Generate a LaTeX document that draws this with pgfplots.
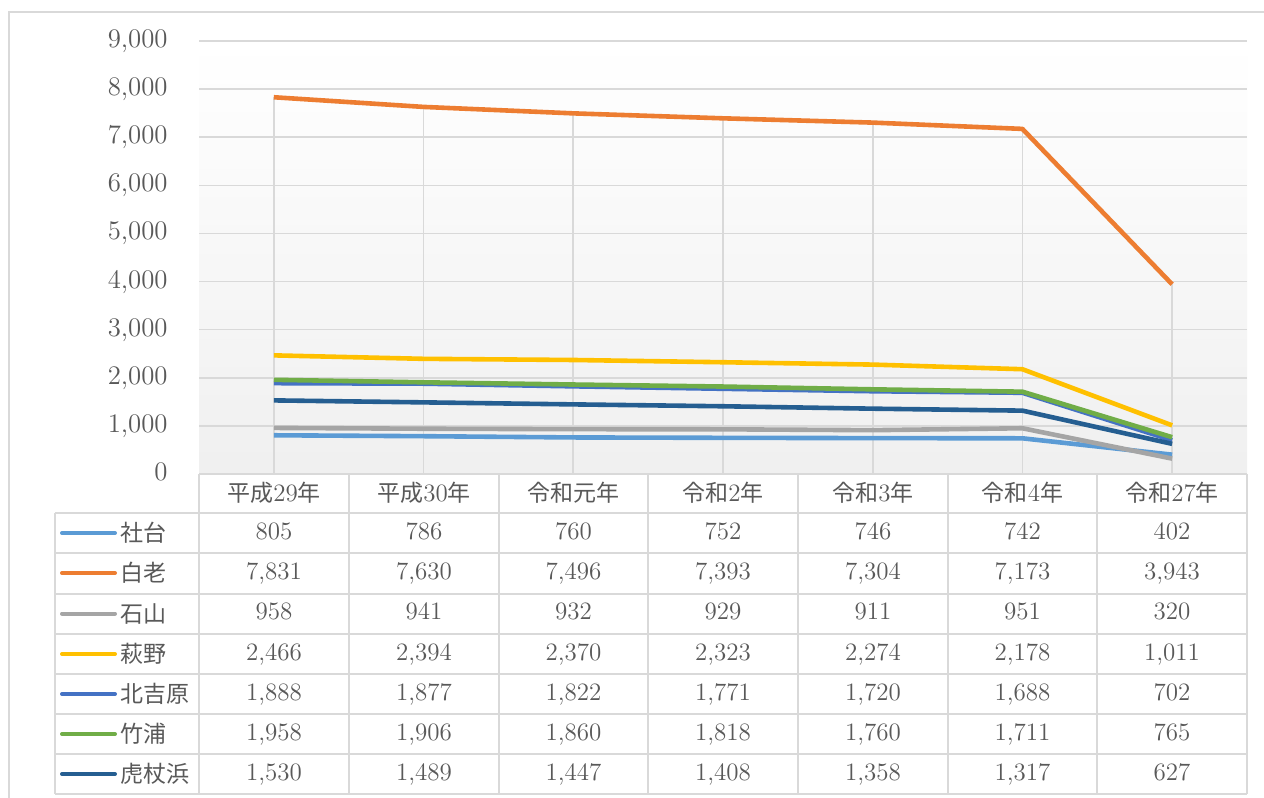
\documentclass[border=0pt]{standalone}
\usepackage{pgfplots}
\usepackage{pgfplotstable}
\pgfplotsset{compat=1.18}
\usepackage{fontspec}
\newfontfamily\cjk[Scale=0.92]{Noto Sans CJK JP}
\definecolor{c1}{HTML}{5B9BD5}
\definecolor{c2}{HTML}{ED7D31}
\definecolor{c3}{HTML}{A5A5A5}
\definecolor{c4}{HTML}{FFC000}
\definecolor{c5}{HTML}{4472C4}
\definecolor{c6}{HTML}{70AD47}
\definecolor{c7}{HTML}{255E91}
\definecolor{txt}{HTML}{595959}
\definecolor{gridc}{HTML}{D9D9D9}
\pgfplotstableread{
x s1 s2 s3 s4 s5 s6 s7
0 805 7831 958 2466 1888 1958 1530
1 786 7630 941 2394 1877 1906 1489
2 760 7496 932 2370 1822 1860 1447
3 752 7393 929 2323 1771 1818 1408
4 746 7304 911 2274 1720 1760 1358
5 742 7173 951 2178 1688 1711 1317
6 402 3943 320 1011 702 765 627
}\data
\begin{document}
\begin{tikzpicture}[x=0.5pt,y=0.5pt]
\clip (0,0) rectangle (1264,-798);
\fill[white] (0,0) rectangle (1264,-798);
\draw[gridc, line width=1pt] (9,-12) rectangle (1275,-810);
\begin{axis}[at={(99.5pt,-237pt)}, anchor=south west, scale only axis,
  width=524pt, height=216.5pt,
  xmin=-0.5, xmax=6.5, ymin=0, ymax=9000,
  ytick={0,1000,...,9000}, xtick=\empty,
  scaled y ticks=false,
  /pgf/number format/assume math mode=true,
  /pgf/number format/1000 sep={,},
  yticklabel style={txt, font=\fontsize{13.4}{15}\selectfont, inner sep=0pt, anchor=east, xshift=-15.5pt, text height=1.5ex, text depth=0pt},
  axis line style={draw=none},
  major tick length=0pt,
  ymajorgrids, grid style={gridc, line width=0.8pt},
  axis background/.style={top color=white, bottom color=black!6},
  clip=false]
\addplot[ycomb, gridc, line width=0.8pt, no marks] table[x=x,y=s2]{\data};
\addplot[c1, line width=2.3pt, no marks, line join=round] table[x=x,y=s1]{\data};
\addplot[c2, line width=2.3pt, no marks, line join=round] table[x=x,y=s2]{\data};
\addplot[c3, line width=2.3pt, no marks, line join=round] table[x=x,y=s3]{\data};
\addplot[c4, line width=2.3pt, no marks, line join=round] table[x=x,y=s4]{\data};
\addplot[c5, line width=2.3pt, no marks, line join=round] table[x=x,y=s5]{\data};
\addplot[c6, line width=2.3pt, no marks, line join=round] table[x=x,y=s6]{\data};
\addplot[c7, line width=2.3pt, no marks, line join=round] table[x=x,y=s7]{\data};
\end{axis}
\begin{scope}[y=-0.5pt]
\fill[white] (199,474) rectangle (1247,513);
\draw[gridc, line width=1pt] (199,474) -- (1247,474);
\foreach \yy in {513,553,593.5,634,674,714,754,794}
  \draw[gridc, line width=1pt] (55,\yy) -- (1247,\yy);
\draw[gridc, line width=1pt] (55,513) -- (55,794);
\foreach \xx in {199,349,499,648,798,948,1097,1247}
  \draw[gridc, line width=1pt] (\xx,474) -- (\xx,794);
\foreach \cx/\lab in {274/{{\cjk 平成}29{\cjk 年}}, 424/{{\cjk 平成}30{\cjk 年}}, 573.5/{\cjk 令和元年}, 723/{{\cjk 令和}2{\cjk 年}}, 873/{{\cjk 令和}3{\cjk 年}}, 1022.5/{{\cjk 令和}4{\cjk 年}}, 1172/{{\cjk 令和}27{\cjk 年}}}
  \node[txt, font=\fontsize{12.5}{15}\selectfont, inner sep=0pt] at (\cx,493) {\lab};
\foreach \ry/\col/\name [count=\i] in {533/c1/社台, 573/c2/白老, 613.5/c3/石山, 654/c4/萩野, 694/c5/北吉原, 734/c6/竹浦, 774/c7/虎杖浜} {
  \draw[\col, line width=2pt, line cap=round] (62,\ry) -- (115,\ry);
  \node[txt, anchor=west, inner sep=0pt, font=\fontsize{12.5}{15}\selectfont\cjk] at (120,\ry) {\name};
}
\foreach \ry [count=\i] in {533,573,613.5,654,694,734,774} {
  \foreach \cx [count=\r from 0] in {274,424,573.5,723,873,1022.5,1172} {
    \pgfplotstablegetelem{\r}{s\i}\of\data
    \node[txt, inner sep=0pt, text height=1.5ex, text depth=0pt, font=\fontsize{12.5}{15}\selectfont] at (\cx,\ry) {\pgfmathprintnumber[assume math mode=true, 1000 sep={,}]{\pgfplotsretval}};
  }
}
\end{scope}
\end{tikzpicture}
\end{document}
